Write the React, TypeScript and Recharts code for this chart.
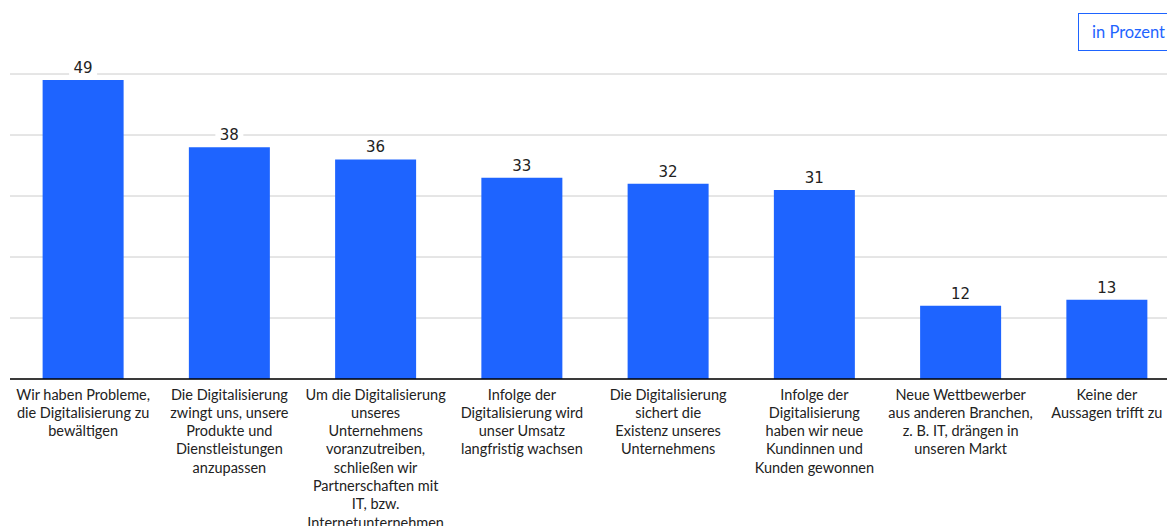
import React from 'react';
import { BarChart, Bar, XAxis, YAxis, CartesianGrid, LabelList } from 'recharts';

const categories = [
  'Wir haben Probleme,\ndie Digitalisierung zu\nbewältigen',
  'Die Digitalisierung\nzwingt uns, unsere\nProdukte und\nDienstleistungen\nanzupassen',
  'Um die Digitalisierung\nunseres\nUnternehmens\nvoranzutreiben,\nschließen wir\nPartnerschaften mit\nIT, bzw.\nInternetunternehmen',
  'Infolge der\nDigitalisierung wird\nunser Umsatz\nlangfristig wachsen',
  'Die Digitalisierung\nsichert die\nExistenz unseres\nUnternehmens',
  'Infolge der\nDigitalisierung\nhaben wir neue\nKundinnen und\nKunden gewonnen',
  'Neue Wettbewerber\naus anderen Branchen,\nz. B. IT, drängen in\nunseren Markt',
  'Keine der\nAussagen trifft zu',
];
const values = [49, 38, 36, 33, 32, 31, 12, 13];
const yTicks = [0, 10, 20, 30, 40, 50];
const unitLabel = 'in Prozent';

const data = categories.map((c, i) => ({ name: c, value: values[i] }));

const BLUE = '#1e64ff';

const Tick = (props: any) => {
  const { x, y, payload } = props;
  const lines = String(payload.value).split('\n');
  return (
    <text x={x} y={y} textAnchor="middle" fontFamily="Lato, 'Open Sans', sans-serif" fontSize={14.5} fill="#222">
      {lines.map((l, i) => (
        <tspan key={i} x={x} dy={i === 0 ? 12.5 : 18.3}>{l}</tspan>
      ))}
    </text>
  );
};

const ValueLabel = (props: any) => {
  const { x, y, width, value } = props;
  const cx = x + width / 2;
  const w = String(value).length * 10 + 8;
  return (
    <g>
      <rect x={cx - w / 2} y={y - 22} width={w} height={18} fill="#fff" />
      <text x={cx} y={y - 7} textAnchor="middle" fontFamily="'DejaVu Sans', sans-serif" fontSize={15} fill="#222">{value}</text>
    </g>
  );
};

export default function App() {
  return (
    <div style={{ position: 'absolute', left: 0, top: 0, width: 1167, height: 526, overflow: 'hidden', background: '#fff' }}>
      <BarChart width={1181} height={526} data={data} margin={{ top: 74, right: 1, bottom: 0, left: 10 }} barCategoryGap="22.3%">
        <CartesianGrid vertical={false} stroke="#cccccc" />
        <YAxis hide domain={[0, 50]} ticks={yTicks} />
        <XAxis dataKey="name" interval={0} tick={<Tick />} tickLine={false} axisLine={{ stroke: '#000', strokeWidth: 1.5 }} height={147} />
        <Bar dataKey="value" fill={BLUE} isAnimationActive={false}>
          <LabelList dataKey="value" content={<ValueLabel />} />
        </Bar>
      </BarChart>
      <div style={{ position: 'absolute', left: 1078, top: 13, width: 100, height: 36, border: `1px solid ${BLUE}`, color: BLUE, fontFamily: "Lato, 'Open Sans', sans-serif", fontSize: 16.5, lineHeight: '36px', paddingLeft: 13, boxSizing: 'content-box' }}>
        {unitLabel}
      </div>
    </div>
  );
}
